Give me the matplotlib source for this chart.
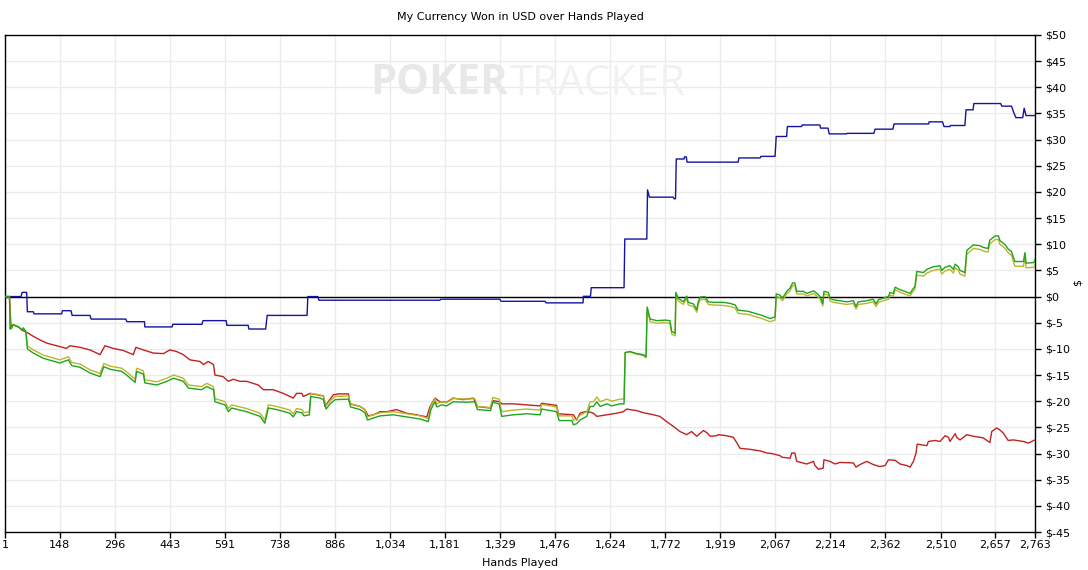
import matplotlib
matplotlib.use('Agg')
import matplotlib.pyplot as plt

# ---------------- data ----------------
x_ticks = [1, 148, 296, 443, 591, 738, 886, 1034, 1181, 1329, 1476, 1624,
           1772, 1919, 2067, 2214, 2362, 2510, 2657, 2763]
y_ticks = list(range(-45, 51, 5))

blue_hands = [1, 44, 47, 59, 61, 77, 79, 153, 155, 178, 181, 229, 232, 325, 328, 375, 376, 449, 451, 529,
              532, 594, 596, 653, 655, 700, 704, 811, 813, 840, 843, 1167, 1170, 1328, 1331, 1449, 1452, 1551, 1552, 1571,
              1573, 1661, 1663, 1722, 1724, 1729, 1793, 1795, 1799, 1801, 1822, 1823, 1828, 1830, 1967, 1969, 2026, 2028, 2066, 2069,
              2097, 2099, 2137, 2139, 2186, 2188, 2208, 2211, 2258, 2259, 2331, 2334, 2382, 2385, 2478, 2479, 2515, 2519, 2535, 2536,
              2575, 2578, 2597, 2599, 2671, 2674, 2700, 2707, 2712, 2730, 2734, 2739, 2763]
blue_vals = [0, 0, 0.8, 0.8, -2.9, -2.9, -3.3, -3.3, -2.7, -2.7, -3.6, -3.6, -4.3, -4.3, -4.8, -4.8, -5.8, -5.8, -5.3, -5.3,
             -4.6, -4.6, -5.5, -5.5, -6.2, -6.2, -3.6, -3.6, 0, 0, -0.7, -0.7, -0.5, -0.5, -0.9, -0.9, -1.2, -1.2, 0.05, 0.05,
             1.7, 1.7, 11.0, 11.0, 20.4, 19.0, 19.0, 18.7, 18.7, 26.3, 26.3, 26.7, 26.7, 25.7, 25.7, 26.5, 26.5, 26.8, 26.8, 30.6,
             30.6, 32.5, 32.5, 32.8, 32.8, 32.2, 32.2, 31.1, 31.1, 31.2, 31.2, 32.0, 32.0, 33.0, 33.0, 33.4, 33.4, 32.5, 32.5, 32.7,
             32.7, 35.7, 35.7, 36.9, 36.9, 36.4, 36.4, 35.0, 34.2, 34.2, 36.0, 34.6, 34.6]

red_hands = [1, 13, 17, 23, 32, 41, 46, 55, 63, 77, 95, 113, 140, 166, 175, 202, 229, 256, 269, 291,
             318, 345, 352, 372, 399, 426, 443, 461, 479, 497, 524, 533, 546, 560, 564, 586, 600, 613, 631, 649,
             680, 694, 720, 747, 774, 783, 797, 801, 810, 819, 855, 859, 868, 881, 895, 922, 926, 953, 966, 975,
             989, 1007, 1025, 1051, 1078, 1105, 1132, 1141, 1154, 1167, 1185, 1203, 1230, 1257, 1266, 1302, 1310, 1328, 1333, 1364,
             1400, 1436, 1440, 1480, 1485, 1525, 1534, 1543, 1556, 1570, 1579, 1588, 1615, 1641, 1659, 1668, 1695, 1713, 1740, 1757,
             1775, 1793, 1811, 1829, 1842, 1856, 1874, 1883, 1892, 1909, 1914, 1936, 1954, 1963, 1972, 1999, 2026, 2044, 2057, 2079,
             2084, 2106, 2111, 2119, 2124, 2151, 2169, 2173, 2182, 2195, 2197, 2213, 2227, 2240, 2276, 2283, 2294, 2312, 2329, 2347,
             2361, 2370, 2388, 2401, 2419, 2428, 2437, 2444, 2447, 2473, 2477, 2495, 2508, 2522, 2531, 2535, 2549, 2553, 2562, 2580,
             2598, 2624, 2642, 2647, 2660, 2669, 2678, 2691, 2705, 2732, 2745, 2763]
red_vals = [0, 0, -5.7, -5.4, -5.6, -6.0, -6.4, -6.7, -7.0, -7.6, -8.3, -8.9, -9.4, -9.9, -9.4, -9.7, -10.2, -11.1, -9.4, -9.9,
            -10.3, -11.1, -9.7, -10.2, -10.8, -10.9, -10.2, -10.5, -11.1, -12.1, -12.4, -13.0, -12.4, -13.0, -15.0, -15.3, -16.2, -15.8, -16.2, -16.2,
            -16.9, -17.8, -17.8, -18.5, -19.4, -18.5, -18.5, -19.1, -18.8, -18.5, -19.0, -21.0, -20.1, -18.8, -18.6, -18.6, -20.5, -21.0, -21.6, -22.8,
            -22.6, -22.0, -22.0, -21.6, -22.3, -22.6, -23.0, -21.0, -19.4, -20.1, -20.2, -19.4, -19.7, -19.4, -21.0, -21.3, -19.9, -20.1, -20.5, -20.5,
            -20.7, -20.9, -20.4, -20.8, -22.4, -22.6, -23.6, -22.3, -22.0, -22.1, -22.3, -22.9, -22.6, -22.3, -22.0, -21.5, -21.8, -22.2, -22.6, -22.9,
            -23.9, -24.8, -25.8, -26.4, -25.8, -26.7, -25.6, -26.0, -26.7, -26.6, -26.4, -26.6, -26.9, -27.9, -29.0, -29.2, -29.5, -29.9, -30.0, -30.4,
            -30.7, -30.9, -29.9, -29.9, -31.5, -32.0, -31.5, -32.3, -33.0, -32.8, -31.2, -31.5, -32.0, -31.7, -31.8, -32.6, -32.1, -31.5, -32.1, -32.5,
            -32.3, -31.2, -31.3, -32.0, -32.3, -32.6, -31.5, -29.9, -28.2, -28.5, -27.7, -27.5, -27.7, -26.6, -26.9, -27.7, -26.2, -26.9, -27.4, -26.4,
            -26.7, -27.0, -27.9, -25.8, -25.1, -25.5, -26.1, -27.5, -27.4, -27.7, -28.0, -27.4]

ev_hands = [1, 13, 15, 19, 23, 37, 46, 50, 57, 61, 77, 104, 148, 171, 180, 202, 229, 256, 266, 283,
            314, 327, 350, 354, 372, 376, 408, 435, 453, 479, 493, 528, 542, 560, 564, 591, 600, 609, 649, 685,
            698, 707, 730, 765, 774, 783, 797, 803, 817, 821, 846, 855, 862, 873, 886, 922, 928, 953, 966, 973,
            989, 1007, 1042, 1078, 1114, 1136, 1143, 1154, 1159, 1172, 1185, 1203, 1239, 1261, 1268, 1303, 1309, 1326, 1333, 1364,
            1400, 1436, 1440, 1480, 1487, 1521, 1525, 1534, 1543, 1561, 1570, 1579, 1588, 1597, 1615, 1628, 1650, 1661, 1664, 1677,
            1695, 1713, 1720, 1723, 1731, 1749, 1771, 1784, 1789, 1798, 1800, 1806, 1820, 1829, 1833, 1847, 1856, 1860, 1865, 1878,
            1887, 1900, 1927, 1945, 1959, 1967, 1993, 2012, 2031, 2052, 2066, 2069, 2079, 2086, 2097, 2106, 2113, 2119, 2124, 2142,
            2151, 2169, 2178, 2187, 2194, 2197, 2209, 2213, 2222, 2240, 2258, 2276, 2283, 2289, 2312, 2329, 2337, 2343, 2356, 2370,
            2374, 2383, 2388, 2401, 2414, 2428, 2435, 2441, 2446, 2464, 2473, 2490, 2508, 2513, 2522, 2535, 2544, 2549, 2557, 2562,
            2575, 2580, 2598, 2616, 2624, 2637, 2642, 2656, 2665, 2669, 2683, 2691, 2700, 2709, 2732, 2736, 2739, 2760, 2763]
green_vals = [0, 0, -6.2, -6.0, -5.4, -5.8, -6.4, -6.0, -6.7, -10.0, -10.8, -11.8, -12.7, -12.1, -13.2, -13.5, -14.6, -15.3, -13.4, -13.9,
              -14.3, -15.0, -16.4, -14.3, -14.8, -16.5, -16.9, -16.2, -15.6, -16.2, -17.5, -17.8, -17.2, -17.8, -20.1, -20.7, -22.0, -21.3, -22.0, -22.9,
              -24.2, -21.3, -21.6, -22.3, -23.0, -22.0, -22.2, -22.8, -22.6, -19.1, -19.4, -19.7, -21.5, -20.5, -19.7, -19.6, -21.1, -21.6, -22.2, -23.6,
              -23.2, -22.8, -22.6, -23.0, -23.4, -23.9, -21.6, -20.1, -21.1, -20.7, -20.9, -20.1, -20.2, -20.1, -21.6, -21.8, -20.2, -20.5, -22.9, -22.6,
              -22.4, -22.6, -21.5, -22.0, -23.7, -23.7, -24.5, -24.3, -23.6, -22.9, -21.0, -21.0, -20.1, -21.0, -20.5, -20.9, -20.5, -20.5, -10.7, -10.5,
              -10.9, -11.1, -11.5, -2.0, -4.3, -4.6, -4.5, -4.6, -6.7, -7.0, 0.8, -0.3, -1.0, 0.1, -1.1, -1.4, -2.5, -1.0, -0.1, 0.0,
              -1.0, -1.1, -1.1, -1.3, -1.6, -2.6, -2.8, -3.2, -3.6, -4.2, -3.9, 0.5, 0.3, -0.3, 1.0, 1.6, 2.6, 2.6, 1.0, 1.0,
              0.6, 1.1, 0.6, 0.0, -1.3, 1.0, 0.8, -0.3, -0.6, -0.8, -1.0, -0.8, -1.9, -1.0, -0.8, -0.5, -1.4, -0.6, -0.3, 0.0,
              0.8, 0.6, 1.8, 1.3, 1.0, 0.6, 1.4, 1.9, 4.8, 4.6, 5.2, 5.7, 5.9, 5.0, 5.6, 5.9, 5.2, 6.2, 5.7, 5.0,
              4.6, 8.8, 9.9, 9.7, 9.4, 9.2, 10.8, 11.6, 11.6, 10.7, 9.9, 9.1, 8.6, 6.7, 6.7, 8.4, 6.4, 6.5, 7.1]
yellow_vals = [0, 0, -6.2, -6.0, -5.4, -5.8, -6.4, -6.0, -6.7, -9.4, -10.2, -11.2, -12.1, -11.5, -12.6, -12.9, -14.0, -14.7, -12.8, -13.3,
               -13.7, -14.4, -15.8, -13.7, -14.2, -15.9, -16.3, -15.6, -15.0, -15.6, -16.9, -17.2, -16.6, -17.2, -19.5, -20.1, -21.4, -20.7, -21.4, -22.3,
               -23.6, -20.7, -21.0, -21.7, -22.4, -21.4, -21.6, -22.2, -22.0, -18.5, -18.8, -19.1, -20.9, -19.9, -19.1, -19.0, -20.5, -21.0, -21.6, -23.0,
               -22.6, -22.2, -22.0, -22.4, -22.8, -23.3, -21.0, -19.5, -20.5, -20.1, -20.3, -19.5, -19.6, -19.5, -21.0, -21.2, -19.3, -19.6, -22.0, -21.7,
               -21.5, -21.7, -20.6, -21.1, -22.8, -22.8, -23.6, -23.4, -22.7, -22.0, -20.1, -20.1, -19.2, -20.1, -19.6, -20.0, -19.6, -19.6, -10.7, -10.6,
               -11.0, -11.3, -11.7, -2.5, -4.8, -5.1, -5.0, -5.1, -7.2, -7.5, 0.3, -0.8, -1.5, -0.4, -1.6, -1.9, -3.0, -1.5, -0.6, -0.5,
               -1.5, -1.6, -1.7, -1.9, -2.2, -3.2, -3.4, -3.8, -4.2, -4.8, -4.5, 0.0, -0.2, -0.8, 0.5, 1.1, 2.1, 2.1, 0.5, 0.5,
               0.1, 0.6, 0.1, -0.5, -1.8, 0.5, 0.3, -0.8, -1.1, -1.3, -1.5, -1.3, -2.4, -1.5, -1.3, -1.0, -1.9, -1.1, -0.8, -0.5,
               0.3, 0.1, 1.3, 0.8, 0.5, 0.1, 0.9, 1.4, 4.1, 3.9, 4.5, 5.0, 5.2, 4.3, 4.9, 5.2, 4.5, 5.5, 5.0, 4.3,
               3.9, 8.1, 9.2, 9.0, 8.7, 8.5, 10.1, 10.9, 10.9, 10.0, 9.2, 8.4, 7.9, 5.8, 5.8, 7.5, 5.5, 5.6, 6.2]

title = 'My Currency Won in USD over Hands Played'
x_label = 'Hands Played'
y_label = '$'

# ---------------- figure ----------------
W, H = 1088, 570
fig = plt.figure(figsize=(W / 100, H / 100), dpi=100)
fig.patch.set_facecolor('white')
ax = fig.add_axes([5 / W, (H - 532) / H, 1030 / W, 497 / H])
ax.set_xlim(1, 2763)
ax.set_ylim(-45, 50)

ax.set_axisbelow(True)
ax.grid(True, color='#ebebeb', lw=1.0)

# watermark
fig.text(508 / W, 1 - 84 / H, 'POKER', ha='right', va='center', fontsize=30,
         fontweight='bold', color='#e8e8e8', family='Open Sans', zorder=0)
fig.text(510 / W, 1 - 84 / H, 'TRACKER', ha='left', va='center', fontsize=30,
         color='#f1f1f1', family='Open Sans', zorder=0)

ax.axhline(0, color='black', lw=1.0, zorder=1.5)

ax.plot(blue_hands, blue_vals, color='#1414a0', lw=1.0, zorder=3)
ax.plot(red_hands, red_vals, color='#c02222', lw=1.0, zorder=3)
ax.plot(ev_hands, yellow_vals, color='#bdb52a', lw=1.0, zorder=3)
ax.plot(ev_hands, green_vals, color='#1fa51f', lw=1.0, zorder=4)

ax.set_xticks(x_ticks)
ax.set_xticklabels([f'{v:,}' for v in x_ticks])
ax.yaxis.tick_right()
ax.set_yticks(y_ticks)
ax.set_yticklabels([f'${v}' for v in y_ticks])
ax.tick_params(axis='both', direction='out', length=4, width=1, color='black',
               labelsize=8, labelcolor='black')
ax.tick_params(axis='x', pad=2)
ax.tick_params(axis='y', pad=3)
for s in ax.spines.values():
    s.set_color('black')
    s.set_linewidth(1.0)

fig.text(520 / W, 1 - 17 / H, title, ha='center', va='center', fontsize=8)
fig.text(520 / W, 1 - 563 / H, x_label, ha='center', va='center', fontsize=8)
fig.text(1078 / W, 1 - 283 / H, y_label, ha='center', va='center', fontsize=8, rotation=90)

fig.savefig('out.png', dpi=100)
